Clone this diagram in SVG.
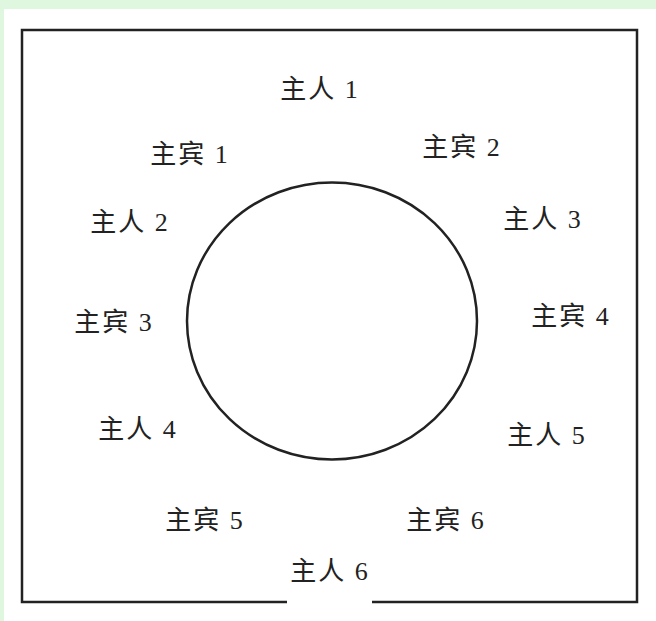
<svg xmlns="http://www.w3.org/2000/svg" width="656" height="621" viewBox="0 0 656 621">
<style>
  .lbl { font-family: "Liberation Serif", "Noto Sans CJK SC", serif; font-size: 26px; fill: #222; text-anchor: middle; letter-spacing: 2px; }
  .line { fill: none; stroke: #222; stroke-width: 2.5; }
</style>
<rect x="0" y="0" width="656" height="621" fill="#dff7df"/>
<rect x="4" y="9" width="652" height="612" fill="#ffffff"/>
<g id="room">
  <path class="line" d="M287,602 H22 V30 H637 V602 H372"/>
</g>
<g id="table">
  <ellipse class="line" cx="332" cy="321" rx="145" ry="138.5" stroke-width="2.2"/>
</g>
<g id="connectors"></g>
<g id="host1"><text class="lbl" x="320" y="98">主人 1</text></g>
<g id="guest1"><text class="lbl" x="190" y="163">主宾 1</text></g>
<g id="guest2"><text class="lbl" x="462" y="156">主宾 2</text></g>
<g id="host2"><text class="lbl" x="130" y="231">主人 2</text></g>
<g id="host3"><text class="lbl" x="543" y="228">主人 3</text></g>
<g id="guest3"><text class="lbl" x="114" y="331">主宾 3</text></g>
<g id="guest4"><text class="lbl" x="571" y="325">主宾 4</text></g>
<g id="host4"><text class="lbl" x="138" y="438">主人 4</text></g>
<g id="host5"><text class="lbl" x="547" y="444">主人 5</text></g>
<g id="guest5"><text class="lbl" x="205" y="529">主宾 5</text></g>
<g id="guest6"><text class="lbl" x="446" y="529">主宾 6</text></g>
<g id="host6"><text class="lbl" x="330" y="580">主人 6</text></g>
</svg>
